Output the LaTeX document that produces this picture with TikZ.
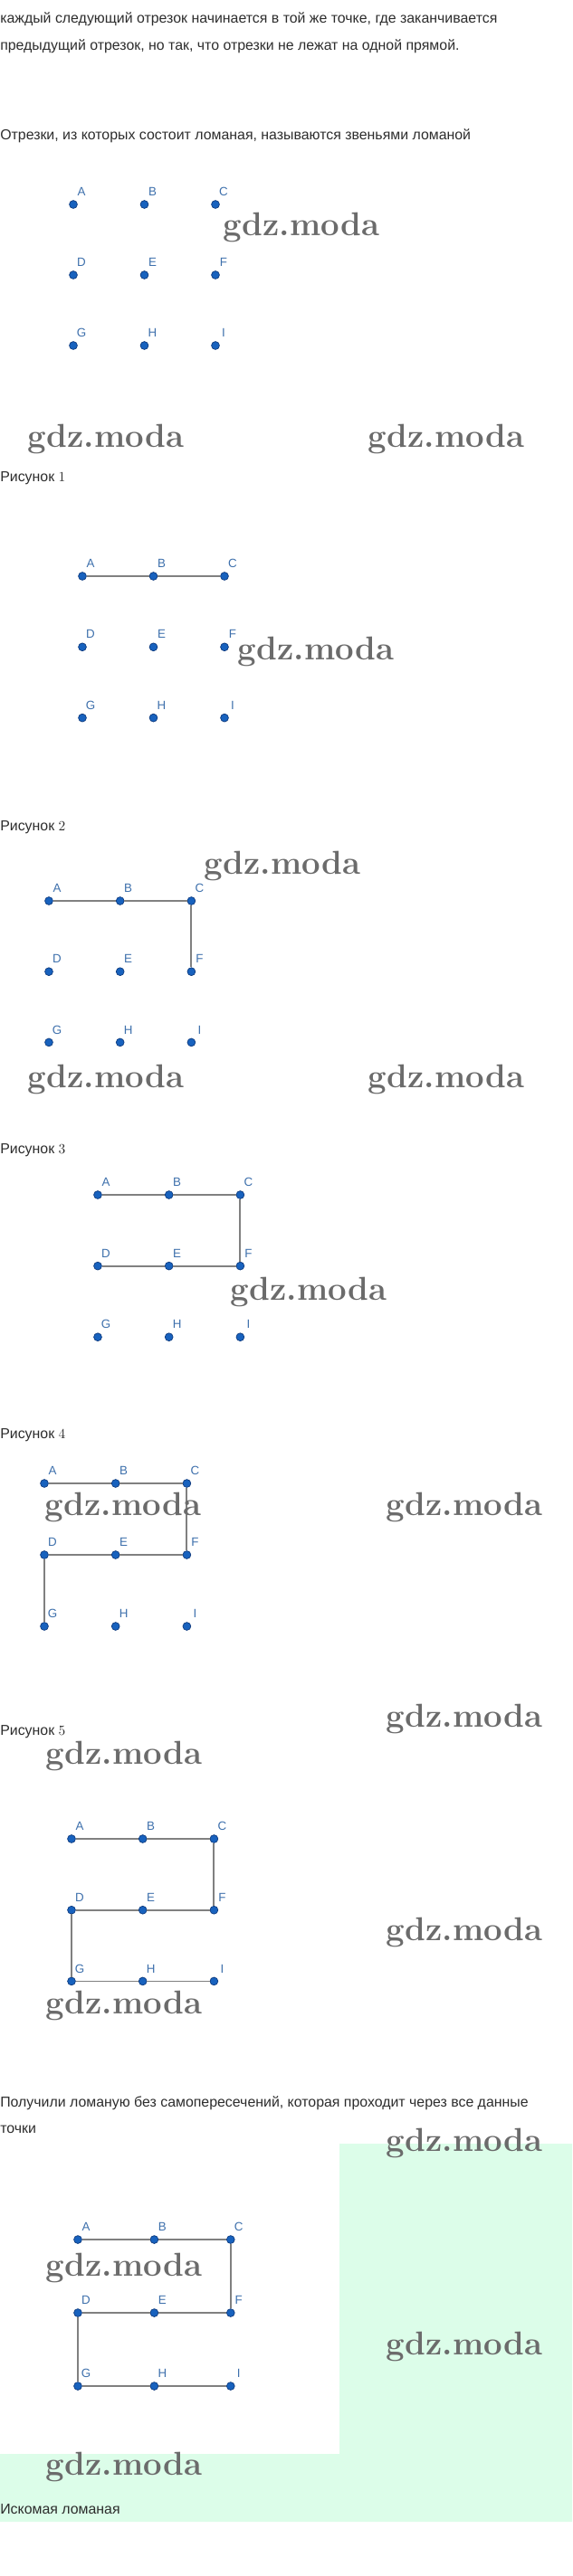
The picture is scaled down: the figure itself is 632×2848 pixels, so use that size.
\documentclass[tikz,border=0pt]{standalone}
\usepackage{fontspec}
\newfontfamily\bodyfont{Liberation Sans}

\definecolor{dotblue}{RGB}{24,98,190}
\definecolor{dotedge}{RGB}{14,58,125}
\definecolor{letterblue}{RGB}{62,112,172}
\definecolor{segment}{RGB}{128,128,128}
\definecolor{mint}{RGB}{220,253,233}
\definecolor{ink}{RGB}{45,45,45}

\begin{document}
\begin{tikzpicture}[x=0.025cm, y=-0.025cm,
    dot/.style={circle, fill=dotblue, draw=dotedge, line width=0.5pt, inner sep=0pt, minimum size=0.22cm},
    letter/.style={font=\bodyfont\fontsize{9.5}{10}\selectfont, text=letterblue, inner sep=0pt},
    link/.style={draw=segment, line width=1.3pt},
    words/.style={font=\bodyfont\fontsize{11.3}{14}\selectfont, text=ink, inner sep=0pt, anchor=base west},
    wmark/.style={font=\fontsize{26}{28}\selectfont\bfseries, text=black!58, inner sep=0pt}]
    \useasboundingbox (0, 0) rectangle (632, 2848);

    % answer area
    \fill [mint] (375, 2370) -- (632, 2370) -- (632, 2788) -- (0, 2788) -- (0, 2713) -- (375, 2713) -- cycle;

    % texts
    \node (t1) at (0, 25) [words] {каждый следующий отрезок начинается в той же точке, где заканчивается};
    \node (t2) at (0, 55) [words] {предыдущий отрезок, но так, что отрезки не лежат на одной прямой.};
    \node (t3) at (0, 154) [words] {Отрезки, из которых состоит ломаная, называются звеньями ломаной};
    \foreach \k/\y in {1/532, 2/918, 3/1275, 4/1590, 5/1918} {
        \node (cap\k) at (0, \y) [words] {Рисунок $\k$};
    }
    \node (t4) at (0, 2329) [words] {Получили ломаную без самопересечений, которая проходит через все данные};
    \node (t5) at (0, 2358) [words] {точки};
    \node (t6) at (0, 2779) [words] {Искомая ломаная};

    % points A..I of every figure
    \foreach \f/\ox/\oy/\dx/\dy in {0/81/226/78.5/78, 1/91/637/78.5/78.3, 2/54/996/78.7/78.2,
            3/108/1321/78.7/78.6, 4/49/1640/78.7/79, 5/79/2033/78.7/78.7, 6/86/2476/84.4/81} {
        \foreach \n/\i/\j in {A/0/0, B/1/0, C/2/0, D/0/1, E/1/1, F/2/1, G/0/2, H/1/2, I/2/2} {
            \node (p\f\n) at (\ox + \i*\dx, \oy + \j*\dy) [dot] {};
            \node (l\f\n) at ([shift={(9, -14)}]p\f\n) [letter] {\n};
        }
    }

    % Рисунок 1
    \draw [link] (p1A) -- (p1B) -- (p1C);

    % Рисунок 2
    \draw [link] (p2A) -- (p2B) -- (p2C) -- (p2F);

    % Рисунок 3
    \draw [link] (p3A) -- (p3B) -- (p3C) -- (p3F) -- (p3E) -- (p3D);

    % Рисунок 4
    \draw [link] (p4A) -- (p4B) -- (p4C) -- (p4F) -- (p4E) -- (p4D) -- (p4G);

    % Рисунок 5
    \draw [link] (p5A) -- (p5B) -- (p5C) -- (p5F) -- (p5E) -- (p5D) -- (p5G) -- (p5H) -- (p5I);

    % answer
    \draw [link] (p6A) -- (p6B) -- (p6C) -- (p6F) -- (p6E) -- (p6D) -- (p6G) -- (p6H) -- (p6I);

    % watermarks
    \foreach \x/\y [count=\k] in {333/251, 117/485, 493/485, 349/720, 312/957, 117/1193, 493/1193,
            341/1428, 136/1666, 513/1666, 513/1900, 137/1941, 513/2136, 137/2217,
            513/2369, 137/2507, 513/2594, 137/2727} {
        \node (w\k) at (\x, \y) [wmark] {gdz.moda};
    }
\end{tikzpicture}
\end{document}
